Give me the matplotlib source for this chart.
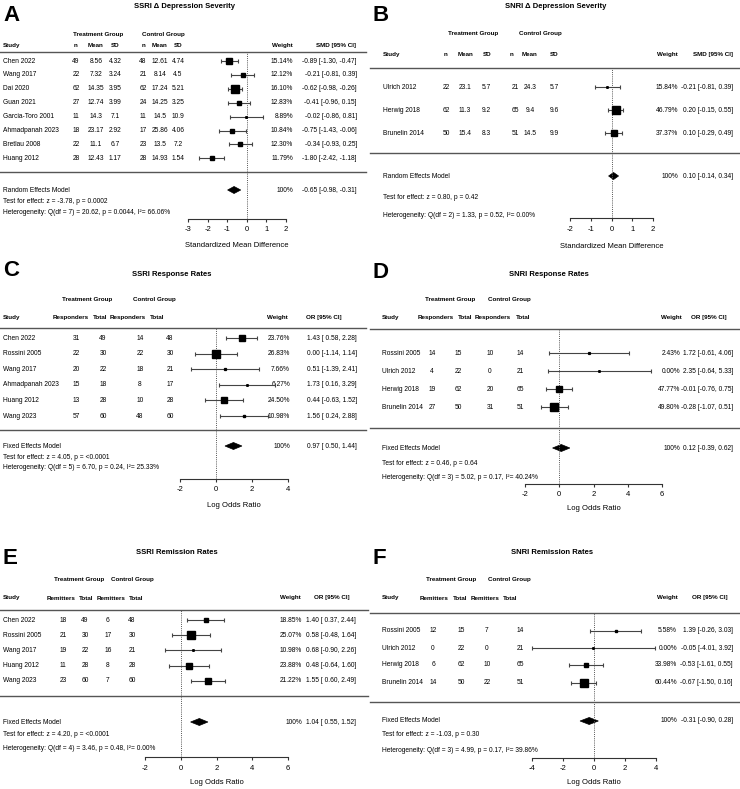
import matplotlib
matplotlib.use("Agg")
import matplotlib.pyplot as plt
from matplotlib.patches import Polygon

plt.rcParams["font.family"] = ["Liberation Sans", "DejaVu Sans"]
plt.rcParams["axes.unicode_minus"] = False

W, H = 740, 789
FS = 4.8      # body text
FS_HEAD = 4.5  # bold column headers

# ---------------- A: SSRI change in depression severity ----------------
A_studies = ["Chen 2022", "Wang 2017", "Dai 2020", "Guan 2021", "Garcia-Toro 2001",
             "Ahmadpanah 2023", "Bretlau 2008", "Huang 2012"]
A_trt_n = [49, 22, 62, 27, 11, 18, 22, 28]
A_trt_mean = [8.56, 7.32, 14.35, 12.74, 14.3, 23.17, 11.1, 12.43]
A_trt_sd = [4.32, 3.24, 3.95, 3.99, 7.1, 2.92, 6.7, 1.17]
A_ctl_n = [48, 21, 62, 24, 11, 17, 23, 28]
A_ctl_mean = [12.61, 8.14, 17.24, 14.25, 14.5, 25.86, 13.5, 14.93]
A_ctl_sd = [4.74, 4.5, 5.21, 3.25, 10.9, 4.06, 7.2, 1.54]
A_weight = [15.14, 12.12, 16.10, 12.83, 8.89, 10.84, 12.30, 11.79]
A_est = [-0.89, -0.21, -0.62, -0.41, -0.02, -0.75, -0.34, -1.80]
A_lo = [-1.30, -0.81, -0.98, -0.96, -0.86, -1.43, -0.93, -2.42]
A_hi = [-0.47, 0.39, -0.26, 0.15, 0.81, -0.06, 0.25, -1.18]
A_summary = (-0.65, -0.98, -0.31)
A_test = (-3.78, "0.0002")
A_het = (7, 20.62, "0.0044", 66.06)
A_ticks = [-3, -2, -1, 0, 1, 2]

# ---------------- B: SNRI change in depression severity ----------------
B_studies = ["Ulrich 2012", "Herwig 2018", "Brunelin 2014"]
B_trt_n = [22, 62, 50]
B_trt_mean = [23.1, 11.3, 15.4]
B_trt_sd = [5.7, 9.2, 8.3]
B_ctl_n = [21, 65, 51]
B_ctl_mean = [24.3, 9.4, 14.5]
B_ctl_sd = [5.7, 9.6, 9.9]
B_weight = [15.84, 46.79, 37.37]
B_est = [-0.21, 0.20, 0.10]
B_lo = [-0.81, -0.15, -0.29]
B_hi = [0.39, 0.55, 0.49]
B_summary = (0.10, -0.14, 0.34)
B_test = (0.80, "0.42")
B_het = (2, 1.33, "0.52", 0.00)
B_ticks = [-2, -1, 0, 1, 2]

# ---------------- C: SSRI response rates ----------------
C_studies = ["Chen 2022", "Rossini 2005", "Wang 2017", "Ahmadpanah 2023", "Huang 2012", "Wang 2023"]
C_trt_resp = [31, 22, 20, 15, 13, 57]
C_trt_total = [49, 30, 22, 18, 28, 60]
C_ctl_resp = [14, 22, 18, 8, 10, 48]
C_ctl_total = [48, 30, 21, 17, 28, 60]
C_weight = [23.76, 26.83, 7.66, 6.27, 24.50, 10.98]
C_est = [1.43, 0.00, 0.51, 1.73, 0.44, 1.56]
C_lo = [0.58, -1.14, -1.39, 0.16, -0.63, 0.24]
C_hi = [2.28, 1.14, 2.41, 3.29, 1.52, 2.88]
C_summary = (0.97, 0.50, 1.44)
C_test = (4.05, "<0.0001")
C_het = (5, 6.70, "0.24", 25.33)
C_ticks = [-2, 0, 2, 4]

# ---------------- D: SNRI response rates ----------------
D_studies = ["Rossini 2005", "Ulrich 2012", "Herwig 2018", "Brunelin 2014"]
D_trt_resp = [14, 4, 19, 27]
D_trt_total = [15, 22, 62, 50]
D_ctl_resp = [10, 0, 20, 31]
D_ctl_total = [14, 21, 65, 51]
D_weight = [2.43, 0.00, 47.77, 49.80]
D_est = [1.72, 2.35, -0.01, -0.28]
D_lo = [-0.61, -0.64, -0.76, -1.07]
D_hi = [4.06, 5.33, 0.75, 0.51]
D_summary = (0.12, -0.39, 0.62)
D_test = (0.46, "0.64")
D_het = (3, 5.02, "0.17", 40.24)
D_ticks = [-2, 0, 2, 4, 6]

# ---------------- E: SSRI remission rates ----------------
E_studies = ["Chen 2022", "Rossini 2005", "Wang 2017", "Huang 2012", "Wang 2023"]
E_trt_rem = [18, 21, 19, 11, 23]
E_trt_total = [49, 30, 22, 28, 60]
E_ctl_rem = [6, 17, 16, 8, 7]
E_ctl_total = [48, 30, 21, 28, 60]
E_weight = [18.85, 25.07, 10.98, 23.88, 21.22]
E_est = [1.40, 0.58, 0.68, 0.48, 1.55]
E_lo = [0.37, -0.48, -0.90, -0.64, 0.60]
E_hi = [2.44, 1.64, 2.26, 1.60, 2.49]
E_summary = (1.04, 0.55, 1.52)
E_test = (4.20, "<0.0001")
E_het = (4, 3.46, "0.48", 0.00)
E_ticks = [-2, 0, 2, 4, 6]

# ---------------- F: SNRI remission rates ----------------
F_studies = ["Rossini 2005", "Ulrich 2012", "Herwig 2018", "Brunelin 2014"]
F_trt_rem = [12, 0, 6, 14]
F_trt_total = [15, 22, 62, 50]
F_ctl_rem = [7, 0, 10, 22]
F_ctl_total = [14, 21, 65, 51]
F_weight = [5.58, 0.00, 33.98, 60.44]
F_est = [1.39, -0.05, -0.53, -0.67]
F_lo = [-0.26, -4.01, -1.61, -1.50]
F_hi = [3.03, 3.92, 0.55, 0.16]
F_summary = (-0.31, -0.90, 0.28)
F_test = (-1.03, "0.30")
F_het = (3, 4.99, "0.17", 39.86)
F_ticks = [-4, -2, 0, 2, 4]

SMD_HEADS = ["n", "Mean", "SD", "n", "Mean", "SD"]
RESP_HEADS = ["Responders", "Total", "Responders", "Total"]
REM_HEADS = ["Remitters", "Total", "Remitters", "Total"]

PANELS = [
    dict(letter="A", title="SSRI \u0394 Depression Severity", studies=A_studies,
         cols=[A_trt_n, A_trt_mean, A_trt_sd, A_ctl_n, A_ctl_mean, A_ctl_sd], heads=SMD_HEADS,
         weight=A_weight, est=A_est, lo=A_lo, hi=A_hi, summary=A_summary, model="Random Effects Model",
         test=A_test, het=A_het, ticks=A_ticks, xlabel="Standardized Mean Difference", ci_name="SMD [95% CI]",
         x0=0, x1=366, letter_xy=(3, 15), title_xy=(185, 6), group_y=34, groups=(98, 163),
         head_y=45, head_x=[76, 96, 115, 143, 160, 178], col_x=[76, 96, 115, 143, 160, 178],
         w_head=293, ci_head=356, head_ha="right", w_right=293, ci_right=357, name_x=3,
         line_y=52, rows=[61 + 13.9 * i for i in range(8)], sep_y=172, sum_y=190, test_y=201, het_y=212,
         fx=(188, 286), axis_y=219, tick_y=230, xlab_y=245),
    dict(letter="B", title="SNRI \u0394 Depression Severity", studies=B_studies,
         cols=[B_trt_n, B_trt_mean, B_trt_sd, B_ctl_n, B_ctl_mean, B_ctl_sd], heads=SMD_HEADS,
         weight=B_weight, est=B_est, lo=B_lo, hi=B_hi, summary=B_summary, model="Random Effects Model",
         test=B_test, het=B_het, ticks=B_ticks, xlabel="Standardized Mean Difference", ci_name="SMD [95% CI]",
         x0=370, x1=740, letter_xy=(373, 15), title_xy=(556, 6), group_y=33, groups=(473, 540),
         head_y=54, head_x=[446, 466, 487, 512, 530, 554], col_x=[446, 465, 486, 515, 530, 554],
         w_head=678, ci_head=733, head_ha="right", w_right=678, ci_right=733, name_x=383,
         line_y=68, rows=[87, 110, 133], sep_y=153, sum_y=176, test_y=197, het_y=215,
         fx=(570, 653), axis_y=218, tick_y=230, xlab_y=246),
    dict(letter="C", title="SSRI Response Rates", studies=C_studies,
         cols=[C_trt_resp, C_trt_total, C_ctl_resp, C_ctl_total], heads=RESP_HEADS,
         weight=C_weight, est=C_est, lo=C_lo, hi=C_hi, summary=C_summary, model="Fixed Effects Model",
         test=C_test, het=C_het, ticks=C_ticks, xlabel="Log Odds Ratio", ci_name="OR [95% CI]",
         x0=0, x1=366, letter_xy=(3, 271), title_xy=(172, 274), group_y=299, groups=(87, 154),
         head_y=317, head_x=[71, 100, 128, 157], col_x=[76, 103, 140, 170],
         w_head=277, ci_head=324, head_ha="center", w_right=290, ci_right=357, name_x=3,
         line_y=328, rows=[338 + 15.6 * i for i in range(6)], sep_y=430, sum_y=446, test_y=457, het_y=467,
         fx=(180, 288), axis_y=479, tick_y=490, xlab_y=505),
    dict(letter="D", title="SNRI Response Rates", studies=D_studies,
         cols=[D_trt_resp, D_trt_total, D_ctl_resp, D_ctl_total], heads=RESP_HEADS,
         weight=D_weight, est=D_est, lo=D_lo, hi=D_hi, summary=D_summary, model="Fixed Effects Model",
         test=D_test, het=D_het, ticks=D_ticks, xlabel="Log Odds Ratio", ci_name="OR [95% CI]",
         x0=370, x1=740, letter_xy=(373, 272), title_xy=(549, 274), group_y=299, groups=(450, 509),
         head_y=317, head_x=[436, 465, 493, 523], col_x=[432, 458, 490, 520],
         w_head=671, ci_head=709, head_ha="center", w_right=680, ci_right=733, name_x=382,
         line_y=329, rows=[353, 371, 389, 407], sep_y=428, sum_y=448, test_y=463, het_y=477,
         fx=(525, 662), axis_y=484, tick_y=495, xlab_y=509),
    dict(letter="E", title="SSRI Remission Rates", studies=E_studies,
         cols=[E_trt_rem, E_trt_total, E_ctl_rem, E_ctl_total], heads=REM_HEADS,
         weight=E_weight, est=E_est, lo=E_lo, hi=E_hi, summary=E_summary, model="Fixed Effects Model",
         test=E_test, het=E_het, ticks=E_ticks, xlabel="Log Odds Ratio", ci_name="OR [95% CI]",
         x0=0, x1=368, letter_xy=(3, 559), title_xy=(177, 553), group_y=580, groups=(79, 132),
         head_y=598, head_x=[61, 86, 111, 136], col_x=[63, 85, 108, 132],
         w_head=290, ci_head=332, head_ha="center", w_right=302, ci_right=356, name_x=3,
         line_y=610, rows=[620 + 15.2 * i for i in range(5)], sep_y=696, sum_y=722, test_y=735, het_y=748,
         fx=(145, 288), axis_y=757, tick_y=769, xlab_y=783),
    dict(letter="F", title="SNRI Remission Rates", studies=F_studies,
         cols=[F_trt_rem, F_trt_total, F_ctl_rem, F_ctl_total], heads=REM_HEADS,
         weight=F_weight, est=F_est, lo=F_lo, hi=F_hi, summary=F_summary, model="Fixed Effects Model",
         test=F_test, het=F_het, ticks=F_ticks, xlabel="Log Odds Ratio", ci_name="OR [95% CI]",
         x0=370, x1=740, letter_xy=(373, 559), title_xy=(552, 553), group_y=580, groups=(451, 509),
         head_y=598, head_x=[434, 460, 485, 510], col_x=[433, 461, 487, 520],
         w_head=667, ci_head=710, head_ha="center", w_right=677, ci_right=733, name_x=382,
         line_y=613, rows=[631, 648, 665, 683], sep_y=702, sum_y=721, test_y=735, het_y=750,
         fx=(532, 656), axis_y=758, tick_y=769, xlab_y=782),
]

LINE = "#555555"
CI_COL = "#444444"

fig = plt.figure(figsize=(W / 100, H / 100), dpi=100)
bg = fig.add_axes([0, 0, 1, 1])
bg.set_xlim(0, W)
bg.set_ylim(H, 0)
bg.axis("off")


def txt(x, y, s, ha="left", bold=False, size=FS):
    bg.text(x, y, s, ha=ha, va="center", fontsize=size,
            fontweight="bold" if bold else "normal", color="black")


def draw_panel(p):
    # letter, title, headers
    bg.text(p["letter_xy"][0], p["letter_xy"][1], p["letter"], ha="left", va="center",
            fontsize=16, fontweight="bold")
    txt(p["title_xy"][0], p["title_xy"][1], p["title"], ha="center", bold=True, size=5.5)
    txt(p["groups"][0], p["group_y"], "Treatment Group", ha="center", bold=True, size=FS_HEAD)
    txt(p["groups"][1], p["group_y"], "Control Group", ha="center", bold=True, size=FS_HEAD)
    txt(p["name_x"], p["head_y"], "Study", bold=True, size=FS_HEAD)
    for hx, h in zip(p["head_x"], p["heads"]):
        txt(hx, p["head_y"], h, ha="center", bold=True, size=FS_HEAD)
    txt(p["w_head"], p["head_y"], "Weight", ha=p["head_ha"], bold=True, size=FS_HEAD)
    txt(p["ci_head"], p["head_y"], p["ci_name"], ha=p["head_ha"], bold=True, size=FS_HEAD)
    bg.plot([p["x0"], p["x1"]], [p["line_y"]] * 2, color=LINE, lw=1.0)
    bg.plot([p["x0"], p["x1"]], [p["sep_y"]] * 2, color=LINE, lw=1.0)

    # study rows
    for i, name in enumerate(p["studies"]):
        y = p["rows"][i]
        txt(p["name_x"], y, name)
        for cx, col in zip(p["col_x"], p["cols"]):
            txt(cx, y, str(col[i]), ha="center")
        txt(p["w_right"], y, f"{p['weight'][i]:.2f}%", ha="right")
        txt(p["ci_right"], y, f"{p['est'][i]:.2f} [{p['lo'][i]:5.2f}, {p['hi'][i]:.2f}]", ha="right")

    se, sl, sh = p["summary"]
    txt(p["name_x"], p["sum_y"], p["model"])
    txt(p["w_right"], p["sum_y"], "100%", ha="right")
    txt(p["ci_right"], p["sum_y"], f"{se:.2f} [{sl:5.2f}, {sh:.2f}]", ha="right")
    z, pz = p["test"]
    txt(p["name_x"], p["test_y"], f"Test for effect: z = {z:.2f}, p = {pz}")
    df, q, pq, i2 = p["het"]
    txt(p["name_x"], p["het_y"], f"Heterogeneity: Q(df = {df}) = {q:.2f}, p = {pq}, I\u00b2= {i2:.2f}%")

    # forest axes: x in effect units, y in pixel rows
    fx0, fx1 = p["fx"]
    top, bot = p["line_y"], p["axis_y"]
    fa = fig.add_axes([fx0 / W, 1 - bot / H, (fx1 - fx0) / W, (bot - top) / H])
    ticks = p["ticks"]
    fa.set_xlim(ticks[0], ticks[-1])
    fa.set_ylim(bot, top)
    fa.patch.set_visible(False)
    for s in ("top", "left", "right"):
        fa.spines[s].set_visible(False)
    fa.spines["bottom"].set_color("#333333")
    fa.spines["bottom"].set_linewidth(0.8)
    fa.set_yticks([])
    fa.set_xticks(ticks)
    fa.set_xticklabels([str(t) for t in ticks])
    pad_px = p["tick_y"] - bot - 3.5 - 4.3
    fa.tick_params(axis="x", length=2.5, width=0.8, color="#333333", labelsize=5.5,
                   pad=max(pad_px, 0.5) * 0.72)
    fa.axvline(0, color="#555555", lw=0.7, ls=(0, (1, 1.2)))

    w = p["weight"]
    wmin, wmax = min(w), max(w)
    for i in range(len(p["studies"])):
        y = p["rows"][i]
        fa.hlines(y, p["lo"][i], p["hi"][i], color=CI_COL, lw=0.8, clip_on=False)
        fa.plot([p["lo"][i], p["hi"][i]], [y, y], ls="none", marker="|", ms=3.2, mew=0.8,
                color=CI_COL, clip_on=False)
        t = (w[i] - wmin) / (wmax - wmin)
        fa.plot(p["est"][i], y, ls="none", marker="s", ms=1.1 + 4.0 * t, color="black",
                clip_on=False, zorder=3)
    sy = p["sum_y"]
    fa.add_patch(Polygon([(sl, sy), (se, sy - 3.5), (sh, sy), (se, sy + 3.5)], closed=True,
                         fc="black", ec="black", lw=0.5, clip_on=False))

    txt((fx0 + fx1) / 2, p["xlab_y"], p["xlabel"], ha="center", size=5.5)


for panel in PANELS:
    draw_panel(panel)

fig.savefig("out.png", dpi=100)
